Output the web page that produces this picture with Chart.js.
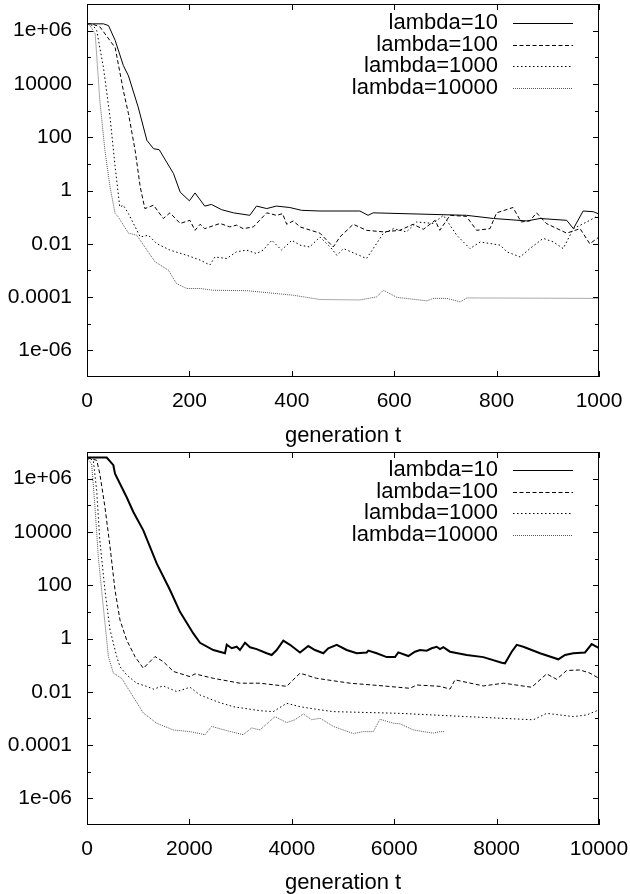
<!DOCTYPE html>
<html>
<head>
<meta charset="utf-8">
<title>lambda runs</title>
<script src="https://cdn.jsdelivr.net/npm/chart.js@4.4.0/dist/chart.umd.min.js"></script>
<style>
  html, body { margin: 0; padding: 0; background: #fff; }
  canvas { display: block; }
</style>
</head>
<body>
<canvas id="shortRun" width="630" height="447"></canvas>
<canvas id="longRun" width="630" height="447"></canvas>
<script>
// Series names
const seriesLabels = ['lambda=10', 'lambda=100', 'lambda=1000', 'lambda=10000'];

// Y axis (log) ticks
const yTickValues = [1e-6, 1e-4, 1e-2, 1, 100, 1e4, 1e6];
const yTickLabels = ['1e-06', '0.0001', '0.01', '1', '100', '10000', '1e+06'];
const yMinorValues = [1e-5, 1e-3, 0.1, 10, 1000, 1e5];

// Top chart: generations 0..1000
const topXTicks = [0, 200, 400, 600, 800, 1000];
const topT10 = [0, 32, 42, 55, 71, 81, 100, 117, 130, 141, 169, 182, 200, 211, 230, 243, 263, 286, 318, 331, 351, 370, 396, 419, 455, 533, 549, 559, 741, 794, 859, 885, 937, 950, 969, 989, 1000];
const topV10 = [1.8e6, 1.8e6, 1.55e6, 4.3e5, 4.9e4, 2.0e4, 1350, 76, 37, 34, 4.3, 0.87, 0.41, 0.81, 0.26, 0.30, 0.19, 0.145, 0.117, 0.26, 0.21, 0.26, 0.23, 0.18, 0.17, 0.17, 0.117, 0.145, 0.117, 0.089, 0.072, 0.089, 0.076, 0.037, 0.17, 0.16, 0.13];
const topT100 = [0, 9, 25, 55, 71, 81, 94, 104, 113, 130, 149, 162, 182, 201, 211, 221, 230, 260, 279, 292, 305, 325, 351, 370, 382, 390, 403, 416, 455, 481, 494, 520, 546, 579, 611, 637, 657, 680, 689, 709, 741, 761, 787, 800, 832, 848, 865, 878, 897, 937, 963, 982, 1000];
const topV100 = [1.8e6, 1.8e6, 1.4e6, 2.3e5, 5600, 760, 32, 1.35, 0.21, 0.28, 0.089, 0.145, 0.058, 0.076, 0.032, 0.054, 0.037, 0.058, 0.043, 0.05, 0.037, 0.043, 0.145, 0.117, 0.135, 0.054, 0.072, 0.043, 0.025, 0.0076, 0.018, 0.054, 0.032, 0.028, 0.032, 0.054, 0.035, 0.076, 0.032, 0.117, 0.107, 0.032, 0.037, 0.145, 0.23, 0.066, 0.072, 0.145, 0.058, 0.025, 0.037, 0.01, 0.018];
const topT1000 = [0, 12, 19, 32, 45, 55, 64, 71, 81, 104, 120, 136, 162, 195, 221, 240, 250, 273, 292, 312, 331, 344, 361, 380, 400, 416, 435, 455, 475, 488, 501, 546, 579, 599, 624, 644, 676, 696, 722, 748, 768, 807, 820, 846, 865, 891, 911, 930, 950, 976, 1000];
const topV1000 = [1.8e6, 1.55e6, 1e6, 4.3e4, 560, 7.6, 0.24, 0.28, 0.135, 0.018, 0.021, 0.0102, 0.0058, 0.0037, 0.00245, 0.0016, 0.0032, 0.0028, 0.005, 0.0058, 0.0043, 0.0058, 0.0135, 0.0058, 0.0135, 0.0089, 0.0076, 0.018, 0.0076, 0.0037, 0.0066, 0.0028, 0.025, 0.037, 0.028, 0.066, 0.058, 0.117, 0.021, 0.0066, 0.0117, 0.0089, 0.005, 0.0032, 0.0066, 0.016, 0.0117, 0.0066, 0.037, 0.066, 0.117];
const topT10000 = [0, 6, 16, 25, 35, 45, 55, 61, 81, 97, 117, 133, 159, 175, 195, 221, 247, 312, 403, 455, 533, 566, 579, 605, 664, 676, 703, 729, 742, 1000];
const topV10000 = [1.8e6, 1.55e6, 7.6e5, 2400, 32, 1.35, 0.135, 0.102, 0.025, 0.021, 0.0058, 0.0021, 0.00102, 0.00032, 0.00021, 0.00021, 0.00018, 0.000174, 0.000117, 0.000081, 0.000078, 0.000102, 0.00018, 0.000098, 0.000072, 0.000089, 0.000089, 0.000066, 0.000093, 0.000089];

// Bottom chart: generations 0..10000
const bottomXTicks = [0, 2000, 4000, 6000, 8000, 10000];
const botT10 = [0, 385, 515, 547, 775, 905, 1100, 1361, 1621, 1816, 2076, 2207, 2467, 2695, 2729, 2826, 2924, 2988, 3086, 3184, 3314, 3510, 3607, 3705, 3834, 3965, 4160, 4322, 4453, 4615, 4713, 4877, 5072, 5268, 5463, 5494, 5658, 5854, 6016, 6080, 6276, 6406, 6504, 6634, 6732, 6830, 6895, 6959, 7090, 7416, 7740, 8100, 8164, 8295, 8393, 8522, 8848, 9205, 9336, 9498, 9727, 9857, 9955, 10000];
const botV10 = [6.2e6, 6.2e6, 3.2e6, 1.55e6, 2.0e5, 5.6e4, 1.15e4, 660, 66, 10, 1.55, 0.69, 0.37, 0.28, 0.58, 0.43, 0.49, 0.37, 0.69, 0.47, 0.40, 0.28, 0.24, 0.37, 0.83, 0.58, 0.30, 0.52, 0.37, 0.28, 0.43, 0.58, 0.37, 0.28, 0.30, 0.35, 0.28, 0.20, 0.20, 0.30, 0.22, 0.32, 0.37, 0.35, 0.43, 0.49, 0.40, 0.47, 0.32, 0.24, 0.20, 0.123, 0.117, 0.32, 0.58, 0.49, 0.28, 0.166, 0.24, 0.28, 0.30, 0.62, 0.49, 0.43];
const botT100 = [0, 190, 250, 350, 450, 547, 645, 775, 937, 1100, 1328, 1491, 1686, 2012, 2109, 2467, 2988, 3379, 3900, 4160, 4486, 5137, 5787, 6309, 6439, 6895, 7090, 7188, 7741, 8137, 8685, 8978, 9173, 9369, 9629, 9824, 10000];
const botV100 = [6.2e6, 4.9e6, 1.55e6, 8.7e4, 2750, 66, 4.9, 0.87, 0.21, 0.076, 0.21, 0.135, 0.058, 0.037, 0.047, 0.032, 0.021, 0.021, 0.016, 0.05, 0.032, 0.021, 0.0166, 0.0135, 0.018, 0.016, 0.0126, 0.028, 0.0166, 0.021, 0.0148, 0.047, 0.0295, 0.063, 0.066, 0.05, 0.032];
const botT1000 = [0, 123, 189, 250, 350, 450, 580, 645, 775, 970, 1165, 1295, 1491, 1751, 2012, 2207, 2532, 2858, 3379, 3639, 3900, 4160, 4550, 4811, 6113, 7415, 8717, 8978, 9499, 9759, 10000];
const botV1000 = [6.2e6, 4.9e6, 3.6e5, 4900, 66, 2.1, 0.21, 0.087, 0.043, 0.021, 0.016, 0.0126, 0.0166, 0.0102, 0.0148, 0.0076, 0.0043, 0.00275, 0.00195, 0.0018, 0.0037, 0.00275, 0.0021, 0.0018, 0.00155, 0.00117, 0.00089, 0.00155, 0.00117, 0.00135, 0.0021];
const botT10000 = [0, 90, 156, 221, 318, 385, 418, 515, 678, 775, 1100, 1361, 1686, 2012, 2304, 2435, 2728, 3053, 3216, 3379, 3672, 3900, 4062, 4225, 4388, 4550, 4811, 5202, 5397, 5592, 5722, 5983, 6113, 6374, 6764, 6895, 6992];
const botV10000 = [6.2e6, 3.6e6, 8.7e4, 1150, 15.5, 0.87, 0.21, 0.05, 0.032, 0.016, 0.0016, 0.00066, 0.00037, 0.00032, 0.000245, 0.0005, 0.00035, 0.000245, 0.00044, 0.00037, 0.00117, 0.0007, 0.00089, 0.00148, 0.00089, 0.00102, 0.0005, 0.00027, 0.00032, 0.00032, 0.00093, 0.00066, 0.00063, 0.00037, 0.00028, 0.00032, 0.00032];

// Line looks (gnuplot-ish)
const lineLooks = [
    { color: '#000', dash: [], width: 1 },
    { color: '#000', dash: [4, 2.5], width: 1 },
    { color: '#000', dash: [1.5, 2.5], width: 1 },
    { color: '#555', dash: [1, 1], width: 1 }
];

const FONT = '"Liberation Sans", Arial, Helvetica, sans-serif';
Chart.defaults.color = '#000';
Chart.defaults.font.family = FONT;

function toPoints(ts, vs) {
    return ts.map((t, i) => ({ x: t, y: vs[i] }));
}

// Box, inward tick marks and the key in the upper right
const frameTicks = {
    id: 'frameTicks',
    afterDraw(chart, args, opts) {
        const { ctx, chartArea: a, scales } = chart;
        ctx.save();
        ctx.strokeStyle = '#000';
        ctx.lineWidth = 1;
        ctx.setLineDash([]);
        ctx.beginPath();
        const yMark = (v, len) => {
            const y = Math.round(scales.y.getPixelForValue(v)) + 0.5;
            ctx.moveTo(a.left, y); ctx.lineTo(a.left + len, y);
            ctx.moveTo(a.right, y); ctx.lineTo(a.right - len, y);
        };
        yTickValues.forEach(v => yMark(v, 6));
        yMinorValues.forEach(v => yMark(v, 4));
        opts.xTicks.forEach(v => {
            const x = Math.round(scales.x.getPixelForValue(v)) + 0.5;
            ctx.moveTo(x, a.top); ctx.lineTo(x, a.top + 6);
            ctx.moveTo(x, a.bottom); ctx.lineTo(x, a.bottom - 6);
        });
        ctx.stroke();
        ctx.strokeRect(Math.round(a.left) + 0.5, Math.round(a.top) + 0.5,
            Math.round(a.right - a.left) - 1, Math.round(a.bottom - a.top) - 1);

        // key
        ctx.font = '22px ' + FONT;
        ctx.textAlign = 'right';
        ctx.textBaseline = 'middle';
        ctx.fillStyle = '#000';
        seriesLabels.forEach((label, i) => {
            const y = 23 + i * 21.7;
            ctx.fillText(label, 498, y);
            const look = lineLooks[i];
            ctx.strokeStyle = look.color;
            ctx.lineWidth = 1;
            ctx.setLineDash(look.dash);
            ctx.beginPath();
            ctx.moveTo(513, Math.round(y) + 0.5);
            ctx.lineTo(573, Math.round(y) + 0.5);
            ctx.stroke();
        });
        ctx.restore();
    }
};

function makeChart(canvasId, series, xMax, xTicks, padTop, xHeight, firstWidth) {
    return new Chart(document.getElementById(canvasId), {
        type: 'line',
        data: {
            datasets: series.map((s, i) => ({
                label: seriesLabels[i],
                data: toPoints(s[0], s[1]),
                borderColor: lineLooks[i].color,
                borderDash: lineLooks[i].dash,
                borderWidth: i === 0 ? firstWidth : lineLooks[i].width,
                pointRadius: 0,
                tension: 0,
                fill: false
            }))
        },
        options: {
            responsive: false,
            animation: false,
            devicePixelRatio: 1,
            layout: { padding: { top: padTop, right: 31, bottom: 0, left: 0 } },
            plugins: {
                legend: { display: false },
                tooltip: { enabled: false },
                frameTicks: { xTicks: xTicks }
            },
            scales: {
                x: {
                    type: 'linear',
                    min: 0,
                    max: xMax,
                    grid: { display: false, drawTicks: false },
                    border: { display: false },
                    afterBuildTicks: (s) => { s.ticks = xTicks.map(v => ({ value: v })); },
                    afterFit: (s) => {
                        s.height = xHeight;
                        s.paddingLeft = 0;
                        s.paddingRight = 0;
                    },
                    ticks: {
                        autoSkip: false,
                        maxRotation: 0,
                        padding: 12,
                        font: { size: 21 },
                        callback: (v, idx) => String(xTicks[idx])
                    },
                    title: {
                        display: true,
                        text: 'generation t',
                        font: { size: 22 },
                        padding: { top: 0, bottom: -2 }
                    }
                },
                y: {
                    type: 'logarithmic',
                    min: 1e-7,
                    max: 1e7,
                    grid: { display: false, drawTicks: false },
                    border: { display: false },
                    afterBuildTicks: (s) => { s.ticks = yTickValues.map(v => ({ value: v })); },
                    afterFit: (s) => {
                        s.width = 87;
                        s.paddingTop = 0;
                        s.paddingBottom = 0;
                    },
                    ticks: {
                        autoSkip: false,
                        padding: 15,
                        font: { size: 21 },
                        callback: (v, idx) => yTickLabels[idx]
                    }
                }
            }
        },
        plugins: [frameTicks]
    });
}

makeChart('shortRun', [
    [topT10, topV10], [topT100, topV100], [topT1000, topV1000], [topT10000, topV10000]
], 1000, topXTicks, 4, 70, 1);

makeChart('longRun', [
    [botT10, botV10], [botT100, botV100], [botT1000, botV1000], [botT10000, botV10000]
], 10000, bottomXTicks, 5, 69, 2);
</script>
</body>
</html>
